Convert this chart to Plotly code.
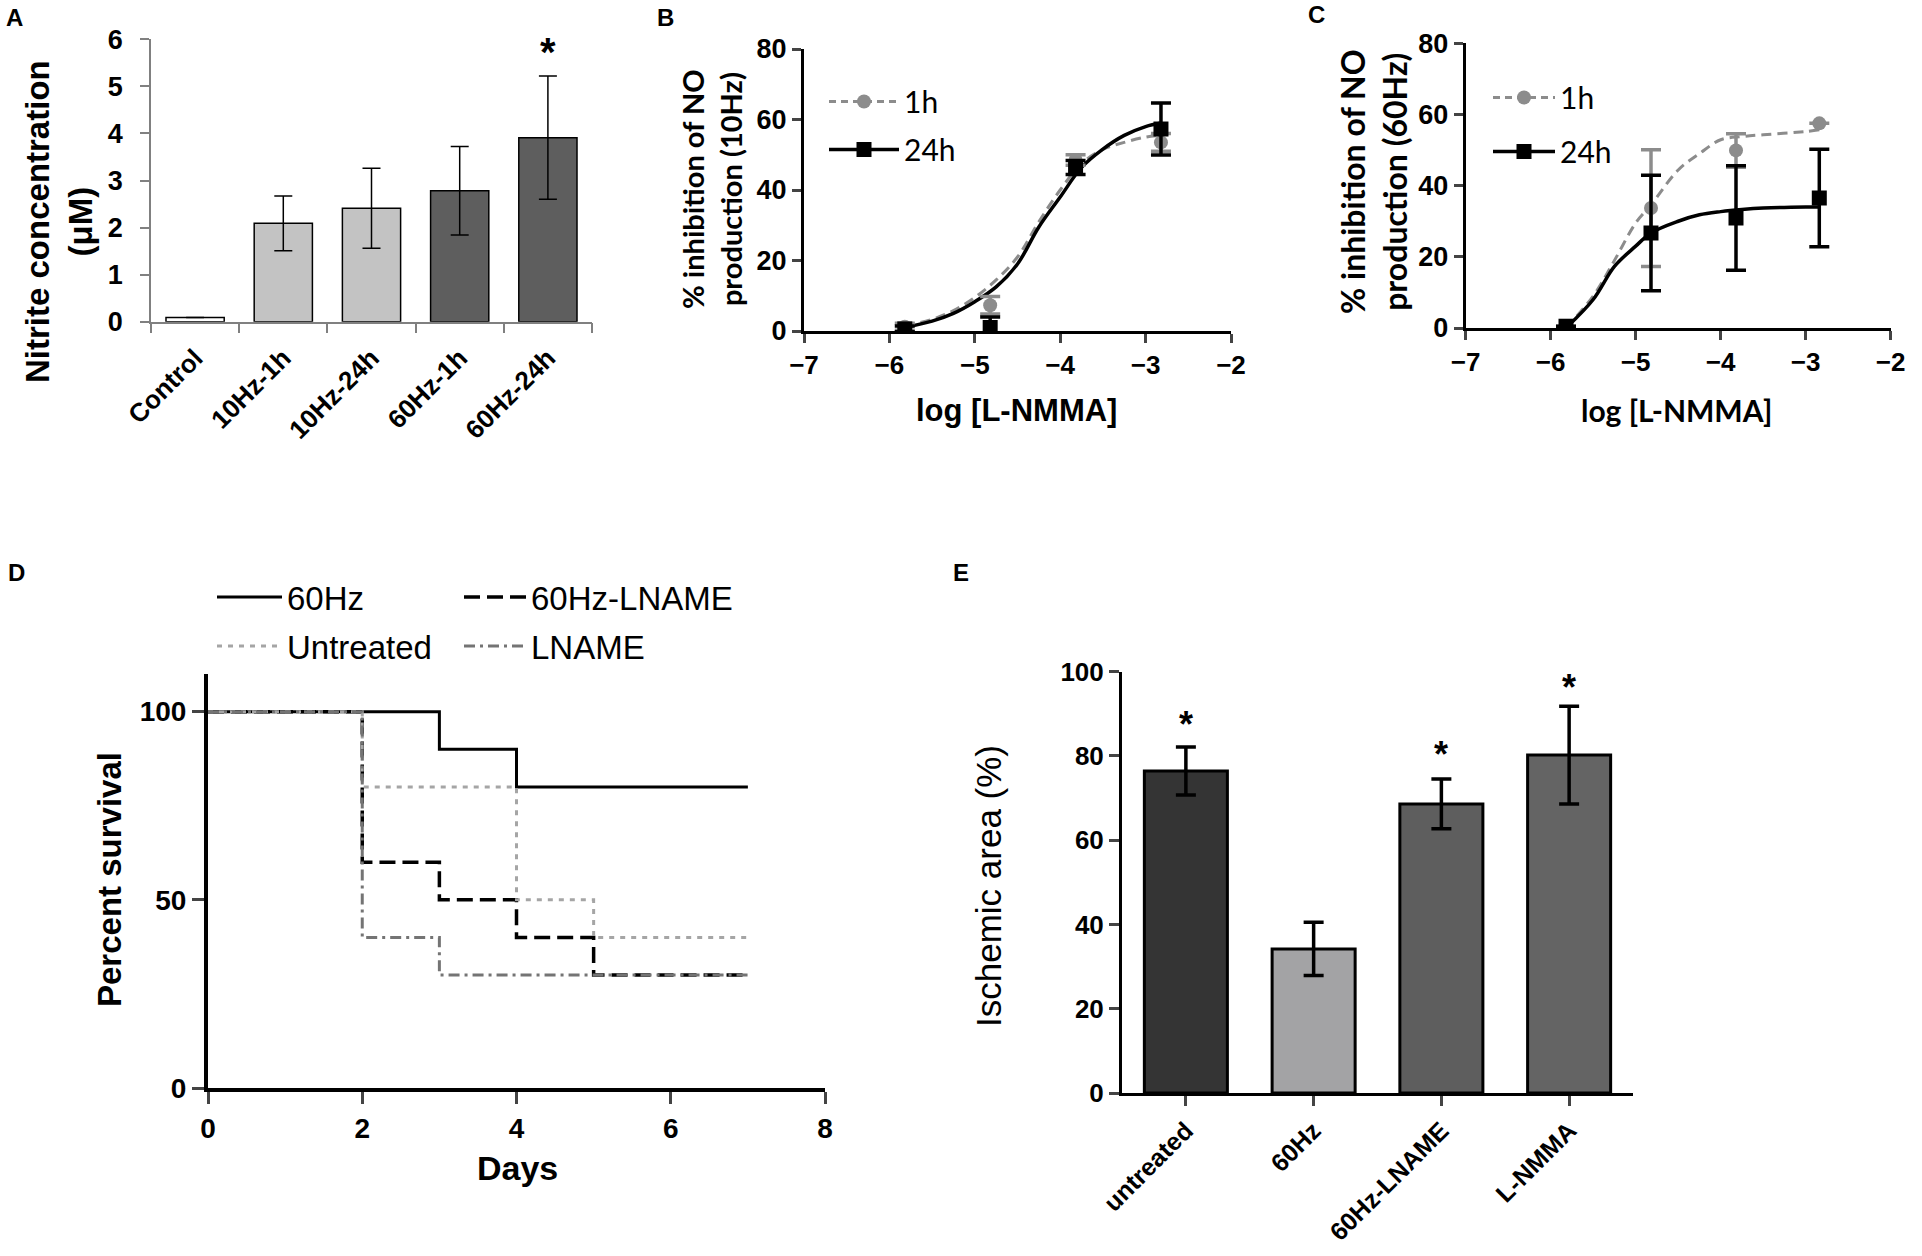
import plotly.graph_objects as go

W, H = 1922, 1256

# ---- panel A: nitrite concentration ----
a_groups = ["Control", "10Hz-1h", "10Hz-24h", "60Hz-1h", "60Hz-24h"]
a_nitrite = [0.09, 2.09, 2.41, 2.78, 3.91]
a_sem = [None, 0.58, 0.85, 0.94, 1.31]
a_colors = ["#ffffff", "#c3c3c3", "#c3c3c3", "#5e5e5e", "#5e5e5e"]
a_star_y = 5.94

# ---- panel B: inhibition of NO production, 10Hz ----
b_log_dose = [-5.82, -4.82, -3.82, -2.82]
b_1h = [1.2, 7.3, 48.5, 53.5]
b_1h_err = [1.0, 2.5, 1.5, 2.5]
b_24h = [0.6, 1.0, 46.4, 57.3]
b_24h_err = [0.8, 3.0, 2.0, 7.4]
b_fit_x = [-5.82, -5.5, -5.25, -5.0, -4.75, -4.5, -4.25, -4.0, -3.75, -3.5, -3.25, -3.0, -2.82]
b_fit_1h = [1.5, 3.3, 5.8, 9.5, 14.5, 21.0, 31.0, 40.0, 47.5, 51.5, 53.5, 55.0, 55.5]
b_fit_24h = [1.0, 2.8, 5.0, 8.3, 12.5, 19.0, 29.5, 38.0, 46.4, 51.6, 55.5, 58.0, 59.0]

# ---- panel C: inhibition of NO production, 60Hz ----
c_log_dose = [-5.82, -4.82, -3.82, -2.84]
c_1h = [0.5, 33.7, 49.9, 57.5]
c_1h_err = [None, 16.4, 4.7, None]
c_24h = [0.5, 26.7, 30.9, 36.5]
c_24h_err = [None, 16.2, 14.7, 13.7]
c_fit_x = [-5.82, -5.5, -5.25, -5.0, -4.82, -4.5, -4.25, -4.0, -3.75, -3.5, -3.0, -2.84]
c_fit_1h = [0.0, 9.0, 19.0, 29.5, 34.6, 44.4, 49.0, 52.9, 53.8, 54.3, 55.2, 55.7]
c_fit_24h = [0.0, 8.0, 17.3, 23.0, 26.7, 30.0, 31.8, 32.7, 33.3, 33.7, 34.0, 34.0]

# ---- panel D: survival ----
d_60hz_days = [0, 3, 4, 7]
d_60hz = [100, 90, 80, 80]
d_60hz_lname_days = [0, 2, 3, 4, 5, 7]
d_60hz_lname = [100, 60, 50, 40, 30, 30]
d_untreated_days = [0, 2, 4, 5, 7]
d_untreated = [100, 80, 50, 40, 40]
d_lname_days = [0, 2, 3, 7]
d_lname = [100, 40, 30, 30]

# ---- panel E: ischemic area ----
e_groups = ["untreated", "60Hz", "60Hz-LNAME", "L-NMMA"]
e_area = [76.4, 34.2, 68.6, 80.2]
e_sem = [5.7, 6.3, 5.9, 11.6]
e_colors = ["#343434", "#a3a3a5", "#5e5e5e", "#646464"]
e_star_groups = ["untreated", "60Hz-LNAME", "L-NMMA"]
e_star_y = [89.7, 82.5, 98.4]

ARIAL = "Liberation Sans, Arial, sans-serif"
CALI = "Lato, Open Sans, sans-serif"
GREY = "#8c8c8c"


def px(x):
    return x / W


def py(y):
    return 1 - y / H


fig = go.Figure()

# A
fig.add_trace(go.Bar(
    x=a_groups, y=a_nitrite, width=0.66,
    marker=dict(color=a_colors, line=dict(color="black", width=1.5)),
    error_y=dict(type="data", array=a_sem, color="black", thickness=1.5, width=9),
    xaxis="x", yaxis="y", showlegend=False
))


def dose_panel(xa, ya, leg, dose, y1, e1, y24, e24, fx, f1, f24):
    fig.add_trace(go.Scatter(x=fx, y=f1, mode="lines",
                             line=dict(color=GREY, width=3, dash="10px,6px", shape="spline"),
                             xaxis=xa, yaxis=ya, showlegend=False))
    fig.add_trace(go.Scatter(x=fx, y=f24, mode="lines",
                             line=dict(color="black", width=3.5, shape="spline"),
                             xaxis=xa, yaxis=ya, showlegend=False))
    fig.add_trace(go.Scatter(x=dose, y=y1, mode="markers",
                             marker=dict(symbol="circle", size=14, color=GREY),
                             error_y=dict(type="data", array=e1, color=GREY, thickness=3.5, width=10),
                             xaxis=xa, yaxis=ya, showlegend=False))
    fig.add_trace(go.Scatter(x=dose, y=y24, mode="markers",
                             marker=dict(symbol="square", size=15, color="black"),
                             error_y=dict(type="data", array=e24, color="black", thickness=3.5, width=10),
                             xaxis=xa, yaxis=ya, showlegend=False))
    # legend entries
    fig.add_trace(go.Scatter(x=[None], y=[None], name="1h", mode="lines+markers", legendgroup=leg + "1h",
                             line=dict(color=GREY, width=3, dash="7px,5px"),
                             marker=dict(symbol="circle", size=14, color=GREY),
                             xaxis=xa, yaxis=ya, legend=leg))
    fig.add_trace(go.Scatter(x=[None], y=[None], name="24h", mode="lines+markers", legendgroup=leg + "24h",
                             line=dict(color="black", width=3.5),
                             marker=dict(symbol="square", size=15, color="black"),
                             xaxis=xa, yaxis=ya, legend=leg))


dose_panel("x2", "y2", "legend", b_log_dose, b_1h, b_1h_err, b_24h, b_24h_err, b_fit_x, b_fit_1h, b_fit_24h)
dose_panel("x3", "y3", "legend2", c_log_dose, c_1h, c_1h_err, c_24h, c_24h_err, c_fit_x, c_fit_1h, c_fit_24h)

# D
fig.add_trace(go.Scatter(x=d_60hz_days, y=d_60hz, name="60Hz", mode="lines",
                         line=dict(color="black", width=3, shape="hv"),
                         xaxis="x4", yaxis="y4", legend="legend3"))
fig.add_trace(go.Scatter(x=d_60hz_lname_days, y=d_60hz_lname, name="60Hz-LNAME", mode="lines",
                         line=dict(color="black", width=3.5, shape="hv", dash="16px,7px"),
                         xaxis="x4", yaxis="y4", legend="legend4"))
fig.add_trace(go.Scatter(x=d_untreated_days, y=d_untreated, name="Untreated", mode="lines",
                         line=dict(color="#a5a5a5", width=3, shape="hv", dash="5px,6px"),
                         xaxis="x4", yaxis="y4", legend="legend5"))
fig.add_trace(go.Scatter(x=d_lname_days, y=d_lname, name="LNAME", mode="lines",
                         line=dict(color="#747474", width=3, shape="hv", dash="11px,5px,3px,5px"),
                         xaxis="x4", yaxis="y4", legend="legend6"))

# E
fig.add_trace(go.Bar(
    x=e_groups, y=e_area, width=0.65,
    marker=dict(color=e_colors, line=dict(color="black", width=3)),
    error_y=dict(type="data", array=e_sem, color="black", thickness=3.5, width=10),
    xaxis="x5", yaxis="y5", showlegend=False
))


def tfont(size, family=ARIAL, weight="bold"):
    return dict(family=family, size=size, color="black", weight=weight)


base = dict(showgrid=False, zeroline=False, showline=True, ticks="outside", mirror=False, automargin=False)

layout_axes = dict(
    xaxis=dict(base, domain=[px(151), px(592)], anchor="y", type="category", range=[-0.5, 4.5],
               tickson="boundaries", ticklen=10, tickwidth=1.5, tickcolor="#808080",
               linecolor="#808080", linewidth=1.5, tickangle=-45, tickfont=tfont(26),
               ticklabelstandoff=9),
    yaxis=dict(base, domain=[py(321.7), py(39.3)], anchor="x", range=[0, 6], dtick=1,
               ticklen=9, tickwidth=1.5, tickcolor="#808080", linecolor="#808080", linewidth=1.5,
               tickfont=tfont(27), ticklabelstandoff=12),
    xaxis2=dict(base, domain=[px(804), px(1231)], anchor="y2", range=[-7, -2], dtick=1,
                ticklen=9, tickwidth=3, linecolor="black", linewidth=3, tickfont=tfont(26)),
    yaxis2=dict(base, domain=[py(331), py(49)], anchor="x2", range=[0, 80], dtick=20,
                ticklen=9, tickwidth=3, linecolor="black", linewidth=3, tickfont=tfont(27)),
    xaxis3=dict(base, domain=[px(1465.7), px(1890.7)], anchor="y3", range=[-7, -2], dtick=1,
                ticklen=9, tickwidth=3, linecolor="black", linewidth=3, tickfont=tfont(26)),
    yaxis3=dict(base, domain=[py(328), py(43.3)], anchor="x3", range=[0, 80], dtick=20,
                ticklen=9, tickwidth=3, linecolor="black", linewidth=3, tickfont=tfont(27)),
    xaxis4=dict(base, domain=[px(208), px(825)], anchor="y4", range=[0, 8], dtick=2,
                ticklen=12, tickwidth=3, linecolor="black", linewidth=4, tickfont=tfont(28)),
    yaxis4=dict(base, domain=[py(1088), py(674)], anchor="x4", range=[0, 110], tickvals=[0, 50, 100],
                ticklen=12, tickwidth=3, linecolor="black", linewidth=4, tickfont=tfont(28)),
    xaxis5=dict(base, domain=[px(1122), px(1633)], anchor="y5", type="category", range=[-0.5, 3.5],
                ticklen=10, tickwidth=3, linecolor="black", linewidth=3, tickangle=-45, tickfont=tfont(25)),
    yaxis5=dict(base, domain=[py(1093), py(671.6)], anchor="x5", range=[0, 100], dtick=20,
                ticklen=10, tickwidth=3, linecolor="black", linewidth=3, tickfont=tfont(26)),
)

annotations = []


def note(text, x, y, font, angle=0, xref="paper", yref="paper", **kw):
    annotations.append(dict(text=text, x=x, y=y, xref=xref, yref=yref, showarrow=False,
                            textangle=angle, font=font, xanchor="center", yanchor="middle", **kw))


# panel letters
for letter, lx, ly in [("A", 14, 17), ("B", 665, 17), ("C", 1316, 15), ("D", 16, 572), ("E", 961, 573)]:
    note(letter, px(lx), py(ly), tfont(24))

# axis titles
note("Nitrite concentration<br>(μM)", px(59), py(222), tfont(33), angle=-90)
note("% inhibition of NO<br>production (10Hz)", px(711), py(189), tfont(29, CALI), angle=-90)
note("% inhibition of NO<br>production (60Hz)", px(1373), py(182), tfont(32, CALI), angle=-90)
note("log [L-NMMA]", px(1017), py(410), tfont(31))
note("log [L-NMMA]", px(1676), py(410), tfont(30, CALI))
note("Percent survival", px(109), py(880), tfont(33), angle=-90)
note("Days", px(517), py(1168), tfont(34))
note("Ischemic area (%)", px(988), py(886), tfont(35, weight="normal"), angle=-90)

# significance marks
note("*", a_groups[-1], a_star_y, tfont(40), xref="x", yref="y", yshift=-10)
for g, sy in zip(e_star_groups, e_star_y):
    note("*", g, sy, tfont(36), xref="x5", yref="y5", yshift=-9)

leg_base = dict(bgcolor="rgba(0,0,0,0)", borderwidth=0, xanchor="left", yanchor="middle")
d_leg_font = dict(family=ARIAL, size=33, color="black")

fig.update_layout(
    width=W, height=H,
    margin=dict(l=0, r=0, t=0, b=0, autoexpand=False),
    paper_bgcolor="white", plot_bgcolor="white",
    annotations=annotations,
    legend=dict(leg_base, x=px(824), y=py(125.5), traceorder="grouped", tracegroupgap=6,
                itemwidth=70, font=dict(family=CALI, size=30, color="black")),
    legend2=dict(leg_base, x=px(1488), y=py(124.5), traceorder="grouped", tracegroupgap=12,
                 itemwidth=62, font=dict(family=CALI, size=30, color="black")),
    legend3=dict(leg_base, x=px(212), y=py(597), itemwidth=65, font=d_leg_font),
    legend4=dict(leg_base, x=px(459), y=py(597), itemwidth=62, font=d_leg_font),
    legend5=dict(leg_base, x=px(212), y=py(646), itemwidth=65, font=d_leg_font),
    legend6=dict(leg_base, x=px(459), y=py(646), itemwidth=62, font=d_leg_font),
    **layout_axes,
)

fig.write_html("out.html", config={"displayModeBar": False},
               post_script="document.body.style.margin='0';")
